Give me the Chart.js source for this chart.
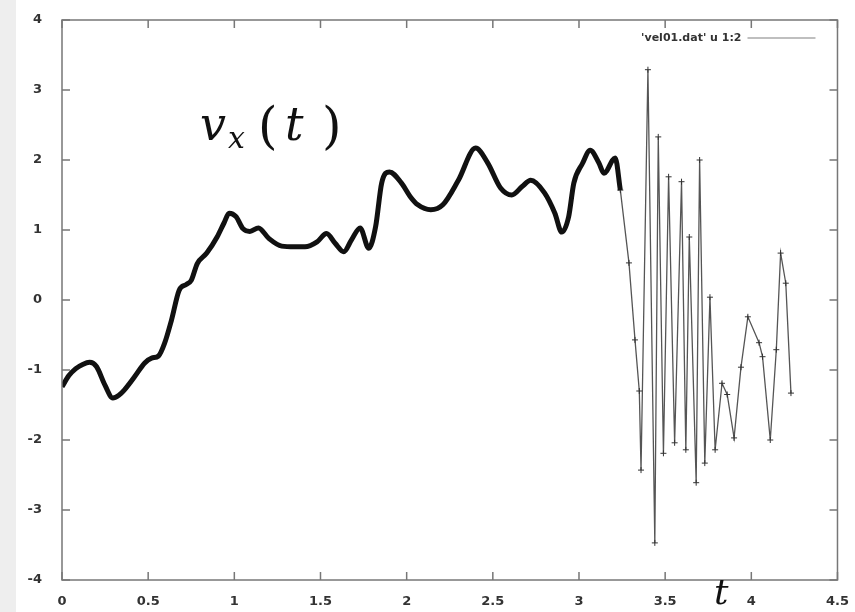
<!DOCTYPE html>
<html>
<head>
<meta charset="utf-8">
<script src="https://cdn.jsdelivr.net/npm/chart.js@4"></script>
<style>
  html, body { margin: 0; padding: 0; background: #fff; }
  #wrap { width: 855px; height: 612px; }
</style>
</head>
<body>
<div id="wrap"><canvas id="vxChart" width="855" height="612"></canvas></div>
<script>
// time values
const tValues = [
  0.00, 0.04, 0.08, 0.12, 0.16, 0.20, 0.25, 0.295, 0.33, 0.36,
  0.42, 0.48, 0.52, 0.56, 0.595, 0.635, 0.68, 0.72, 0.75, 0.785,
  0.84, 0.90, 0.94, 0.97, 1.01, 1.05, 1.09, 1.14, 1.20, 1.275,
  1.35, 1.41, 1.48, 1.535, 1.585, 1.635, 1.68, 1.73, 1.78, 1.82,
  1.855, 1.90, 1.97, 2.02, 2.065, 2.14, 2.21, 2.30, 2.40, 2.47,
  2.545, 2.61, 2.67, 2.72, 2.80, 2.86, 2.90, 2.94, 2.97, 3.02,
  3.065, 3.115, 3.145, 3.21, 3.24,
  3.29, 3.325, 3.35, 3.36, 3.40, 3.44, 3.46, 3.49, 3.52, 3.555,
  3.595, 3.62, 3.64, 3.68, 3.70, 3.73, 3.76, 3.79, 3.83, 3.86,
  3.90, 3.94, 3.98, 4.045, 4.065, 4.11, 4.145, 4.17, 4.20, 4.23
];
// v_x(t) values
const vxValues = [
  -1.24, -1.08, -0.98, -0.92, -0.89, -0.95, -1.22, -1.40, -1.36, -1.29,
  -1.10, -0.90, -0.83, -0.80, -0.62, -0.29, 0.14, 0.22, 0.28, 0.52,
  0.67, 0.90, 1.10, 1.24, 1.19, 1.02, 0.98, 1.03, 0.88, 0.77,
  0.76, 0.76, 0.83, 0.95, 0.81, 0.69, 0.86, 1.03, 0.74, 1.05,
  1.67, 1.83, 1.67, 1.48, 1.36, 1.29, 1.36, 1.71, 2.17, 1.96,
  1.60, 1.50, 1.62, 1.71, 1.53, 1.24, 0.97, 1.19, 1.67, 1.95,
  2.14, 1.96, 1.81, 2.03, 1.57,
  0.53, -0.57, -1.30, -2.43, 3.29, -3.47, 2.33, -2.19, 1.76, -2.04,
  1.69, -2.14, 0.90, -2.61, 2.00, -2.33, 0.04, -2.14, -1.19, -1.35,
  -1.97, -0.96, -0.24, -0.61, -0.81, -2.00, -0.71, 0.67, 0.24, -1.33
];
const xTicks = [0, 0.5, 1, 1.5, 2, 2.5, 3, 3.5, 4, 4.5];
const yTicks = [-4, -3, -2, -1, 0, 1, 2, 3, 4];
const seriesName = "'vel01.dat' u 1:2";

// the smooth part ends here and the noisy part starts
const T_SPLIT = 3.24;

const allPoints = tValues.map((t, i) => ({ x: t, y: vxValues[i] }));
const smoothPoints = allPoints.filter(p => p.x <= T_SPLIT);
const noisyPoints = allPoints.filter(p => p.x >= T_SPLIT);

// gnuplot-like frame: box, inward ticks, key and labels on the plot
const framePlugin = {
  id: "frame",
  beforeDraw(chart) {
    const c = chart.ctx;
    c.save();
    c.fillStyle = "#ffffff";
    c.fillRect(0, 0, chart.width, chart.height);
    c.fillStyle = "#eeeeee";
    c.fillRect(0, 0, 16, chart.height);
    c.restore();
  },
  afterDraw(chart) {
    const c = chart.ctx;
    const a = chart.chartArea;
    const xs = chart.scales.x;
    const ys = chart.scales.y;
    c.save();
    c.strokeStyle = "#777";
    c.lineWidth = 1.5;
    c.strokeRect(a.left, a.top, a.right - a.left, a.bottom - a.top);
    c.beginPath();
    xTicks.forEach(v => {
      const px = xs.getPixelForValue(v);
      c.moveTo(px, a.bottom); c.lineTo(px, a.bottom - 8);
      c.moveTo(px, a.top); c.lineTo(px, a.top + 8);
    });
    yTicks.forEach(v => {
      const py = ys.getPixelForValue(v);
      c.moveTo(a.left, py); c.lineTo(a.left + 8, py);
      c.moveTo(a.right, py); c.lineTo(a.right - 8, py);
    });
    c.stroke();

    // key, top right inside the box
    c.fillStyle = "#333";
    c.font = "bold 11px 'DejaVu Sans'";
    c.textAlign = "right";
    c.textBaseline = "middle";
    c.fillText(seriesName, a.right - 96, a.top + 18);
    c.strokeStyle = "#aaa";
    c.lineWidth = 1.5;
    c.beginPath();
    c.moveTo(a.right - 90, a.top + 18);
    c.lineTo(a.right - 22, a.top + 18);
    c.stroke();

    // v_x(t) label
    c.textAlign = "left";
    c.textBaseline = "alphabetic";
    c.fillStyle = "#111";
    c.font = "italic 46px 'DejaVu Serif'";
    c.fillText("v", 200, 140);
    c.font = "italic 30px 'DejaVu Serif'";
    c.fillText("x", 228, 148);
    c.font = "50px 'DejaVu Serif'";
    c.fillText("(", 258, 143);
    c.font = "italic 46px 'DejaVu Serif'";
    c.fillText("t", 285, 140);
    c.font = "50px 'DejaVu Serif'";
    c.fillText(")", 322, 143);

    // t axis label
    c.font = "italic 36px 'DejaVu Serif'";
    c.fillText("t", 714, 604);
    c.restore();
  }
};

new Chart(document.getElementById("vxChart"), {
  type: "line",
  data: {
    datasets: [
      {
        label: seriesName,
        data: smoothPoints,
        borderColor: "#111",
        borderWidth: 5,
        tension: 0.3,
        cubicInterpolationMode: "monotone",
        pointRadius: 0
      },
      {
        label: seriesName,
        data: noisyPoints,
        borderColor: "#555",
        borderWidth: 1.3,
        tension: 0,
        pointStyle: "cross",
        pointRadius: 3,
        pointBorderColor: "#333",
        pointBorderWidth: 1
      }
    ]
  },
  options: {
    responsive: false,
    animation: false,
    layout: { padding: { top: 20, right: 13, left: 0, bottom: 0 } },
    plugins: {
      legend: { display: false },
      tooltip: { enabled: false }
    },
    scales: {
      x: {
        type: "linear",
        min: 0,
        max: 4.5,
        afterBuildTicks: s => { s.ticks = xTicks.map(v => ({ value: v })); },
        afterFit: s => { s.height = 32; },
        grid: { display: false },
        border: { display: false },
        ticks: {
          color: "#333",
          padding: 6,
          maxRotation: 0,
          font: { family: "'DejaVu Sans'", size: 13, weight: "bold" },
          callback: v => String(v)
        }
      },
      y: {
        min: -4,
        max: 4,
        afterBuildTicks: s => { s.ticks = yTicks.map(v => ({ value: v })); },
        afterFit: s => { s.width = 62; },
        grid: { display: false },
        border: { display: false },
        ticks: {
          color: "#333",
          padding: 12,
          font: { family: "'DejaVu Sans'", size: 13, weight: "bold" },
          callback: v => String(v)
        }
      }
    }
  },
  plugins: [framePlugin]
});
</script>
</body>
</html>
